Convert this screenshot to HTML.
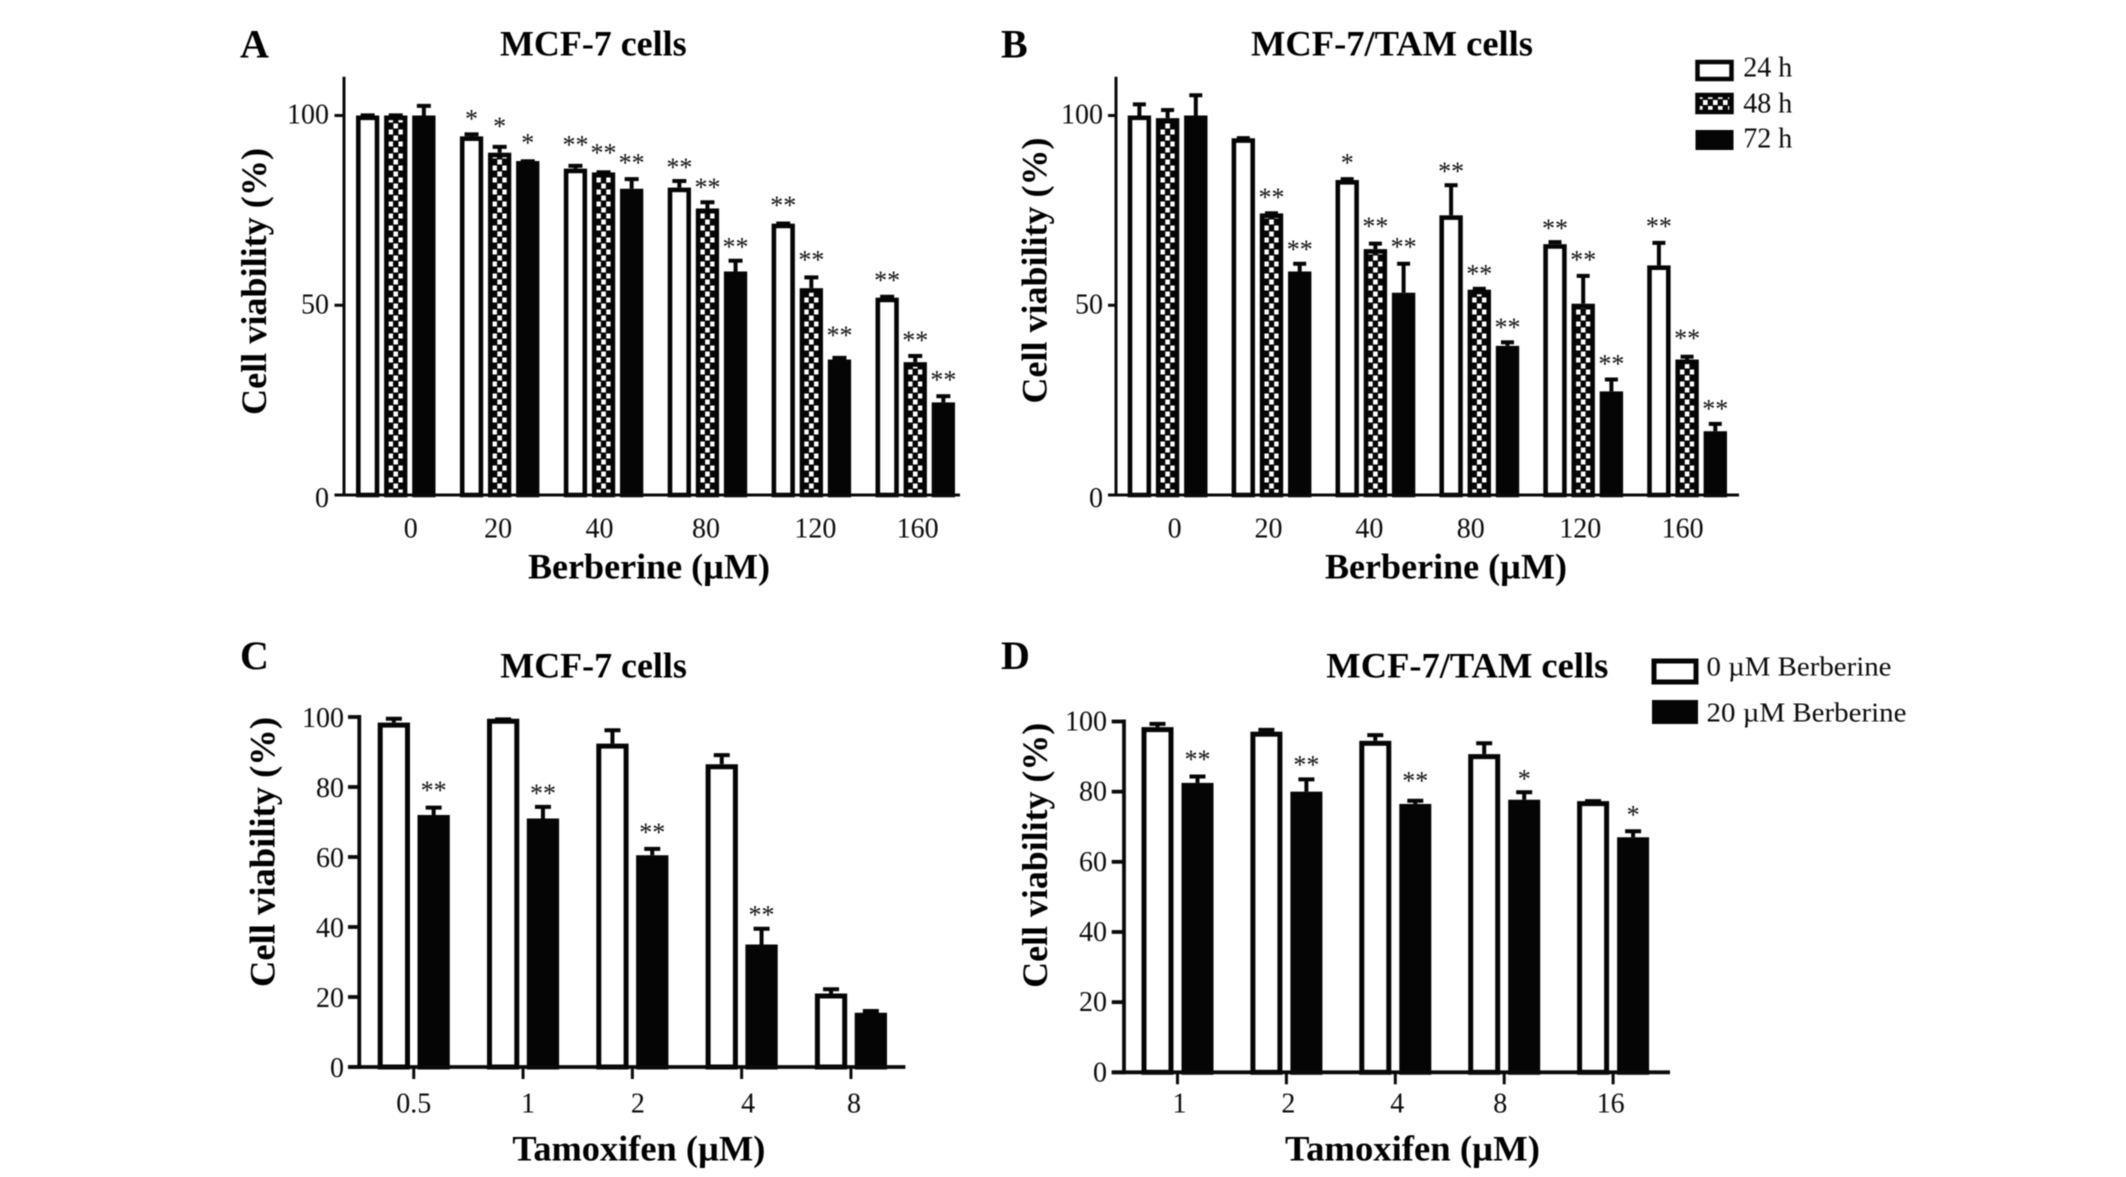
<!DOCTYPE html>
<html lang="en">
<head>
<meta charset="utf-8">
<title>Cell viability charts</title>
<style>
html,body{margin:0;padding:0;background:#fff;width:2126px;height:1177px;overflow:hidden}
svg{display:block;font-family:"Liberation Serif","DejaVu Serif",serif;filter:blur(0.55px)}
.b{font-weight:700;fill:#000}
.t{fill:#0c0c0c}
</style>
</head>
<body>
<svg id="fig" xmlns="http://www.w3.org/2000/svg" width="2126" height="1177" viewBox="0 0 2126 1177">
<defs>
<pattern id="legend-check" patternUnits="userSpaceOnUse" width="10" height="12" x="1698" y="94">
<rect width="10" height="12" fill="#050505"/>
<rect x="0" y="0" width="4.6" height="5" fill="#fff"/>
<rect x="5" y="6" width="4.6" height="5" fill="#fff"/>
</pattern>
</defs>
<rect width="2126" height="1177" fill="#fff"/>

<text class="b" x="240" y="57.5" font-size="40">A</text>
<text class="b" x="1001" y="57.5" font-size="40">B</text>
<text class="b" x="240" y="669" font-size="40">C</text>
<text class="b" x="1001" y="669" font-size="40">D</text>

<text class="b" x="500" y="55.7" font-size="36" textLength="186.6" lengthAdjust="spacingAndGlyphs">MCF-7 cells</text>
<text class="b" x="1251" y="55.7" font-size="36" textLength="282" lengthAdjust="spacingAndGlyphs">MCF-7/TAM cells</text>
<text class="b" x="500.3" y="677.5" font-size="36" textLength="186.6" lengthAdjust="spacingAndGlyphs">MCF-7 cells</text>
<text class="b" x="1326.3" y="677.5" font-size="36" textLength="282" lengthAdjust="spacingAndGlyphs">MCF-7/TAM cells</text>

<text class="b" transform="translate(266 281.5) rotate(-90)" text-anchor="middle" font-size="36" textLength="267" lengthAdjust="spacingAndGlyphs">Cell viability (%)</text>
<text class="b" transform="translate(1046.3 270.5) rotate(-90)" text-anchor="middle" font-size="36" textLength="266" lengthAdjust="spacingAndGlyphs">Cell viability (%)</text>
<text class="b" transform="translate(274.7 852) rotate(-90)" text-anchor="middle" font-size="36" textLength="270" lengthAdjust="spacingAndGlyphs">Cell viability (%)</text>
<text class="b" transform="translate(1047 855.3) rotate(-90)" text-anchor="middle" font-size="36" textLength="265" lengthAdjust="spacingAndGlyphs">Cell viability (%)</text>

<text class="b" x="528" y="578.5" font-size="36" textLength="242" lengthAdjust="spacingAndGlyphs">Berberine (µM)</text>
<text class="b" x="1325" y="578.5" font-size="36" textLength="242" lengthAdjust="spacingAndGlyphs">Berberine (µM)</text>
<text class="b" x="512.4" y="1160.5" font-size="36" textLength="253" lengthAdjust="spacingAndGlyphs">Tamoxifen (µM)</text>
<text class="b" x="1285" y="1160.5" font-size="36" textLength="255" lengthAdjust="spacingAndGlyphs">Tamoxifen (µM)</text>

<g>
<rect x="1697.5" y="62" width="34" height="17" fill="#fff" stroke="#050505" stroke-width="4.5"/>
<text class="t" x="1743.3" y="76.5" font-size="28">24 h</text>
<rect x="1697.5" y="95" width="34" height="17" fill="url(#legend-check)" stroke="#050505" stroke-width="4.5"/>
<text class="t" x="1743.3" y="112.5" font-size="28">48 h</text>
<rect x="1695.5" y="130" width="38" height="20" fill="#050505"/>
<text class="t" x="1743.3" y="147.5" font-size="28">72 h</text>
</g>
<g>
<rect x="1654" y="661" width="42" height="21" fill="#fff" stroke="#050505" stroke-width="5"/>
<text class="t" x="1706.5" y="675.5" font-size="27" textLength="185" lengthAdjust="spacingAndGlyphs">0 µM Berberine</text>
<rect x="1652" y="700" width="46" height="24" fill="#050505"/>
<text class="t" x="1706.5" y="721.5" font-size="27" textLength="200" lengthAdjust="spacingAndGlyphs">20 µM Berberine</text>
</g>
</svg>
<script>
// ---- Panel A data (MCF-7, berberine) ----
const doseCategories = ['0', '20', '40', '80', '120', '160'];
const ticksAB = [0, 50, 100];
const ticksCD = [0, 20, 40, 60, 80, 100];
const aValues24 = [100, 94.5, 86, 81, 71.5, 52];
const aValues48 = [100, 90.2, 85, 75.5, 54.5, 35];
const aValues72 = [100, 88, 80.7, 58.9, 35.7, 24.4];
const aErrors24 = [0.3, 0.8, 1, 2, 0.3, 0.5];
const aErrors48 = [0.3, 1.8, 0.3, 1.9, 3.1, 1.9];
const aErrors72 = [2.8, 0.2, 2.8, 3.1, 0.7, 1.9];
const aStars24 = ['', '*', '**', '**', '**', '**'];
const aStars48 = ['', '*', '**', '**', '**', '**'];
const aStars72 = ['', '*', '**', '**', '**', '**'];
const aStarLevel24 = [0, 100, 93.1, 87.2, 77.2, 57.4];
const aStarLevel48 = [0, 98, 91, 82, 62.8, 41.6];
const aStarLevel72 = [0, 93.7, 88.4, 66.3, 43, 31.2];

// ---- Panel B data (MCF-7/TAM, berberine) ----
const bValues24 = [100, 94, 83, 73.7, 66.1, 60.5];
const bValues48 = [99.3, 74.2, 64.8, 54.1, 50.4, 35.7];
const bValues72 = [100, 58.9, 53.3, 39.3, 27.3, 16.8];
const bErrors24 = [3.2, 0.3, 0.5, 8.2, 0.8, 6.2];
const bErrors48 = [2.4, 0.3, 1.7, 0.5, 7.6, 1];
const bErrors72 = [5.6, 2.3, 7.9, 1.2, 3.4, 2.2];
const bStars24 = ['', '', '*', '**', '**', '**'];
const bStars48 = ['', '**', '**', '**', '**', '**'];
const bStars72 = ['', '**', '**', '**', '**', '**'];
const bStarLevel24 = [0, 0, 88.4, 86.2, 71.2, 71.7];
const bStarLevel48 = [0, 79.3, 71.7, 59.2, 62.8, 42.2];
const bStarLevel72 = [0, 65.6, 66.3, 45, 35.4, 23.6];

// ---- Panel C data (MCF-7, tamoxifen) ----
const cCategories = ['0.5', '1', '2', '4', '8'];
const cValues0 = [98.4, 99.5, 92.4, 86.5, 21];
const cValues20 = [72, 71, 60.5, 35, 15.5];
const cErrors0 = [1.4, 0.1, 4.1, 2.9, 1.5];
const cErrors20 = [2.4, 3.6, 2.1, 4.8, 0.8];
const cStars0 = ['', '', '', '', ''];
const cStars20 = ['**', '**', '**', '**', ''];
const cStarLevel0 = [0, 0, 0, 0, 0];
const cStarLevel20 = [80, 79.2, 68, 44.5, 0];

// ---- Panel D data (MCF-7/TAM, tamoxifen) ----
const dCategories = ['1', '2', '4', '8', '16'];
const dValues0 = [98.4, 97.1, 94.5, 90.7, 77.3];
const dValues20 = [82.5, 80, 76.5, 77.7, 67];
const dErrors0 = [1.2, 0.8, 1.9, 3.4, 0.3];
const dErrors20 = [2.1, 3.8, 1.2, 2.4, 2];
const dStars0 = ['', '', '', '', ''];
const dStars20 = ['**', '**', '**', '*', '*'];
const dStarLevel0 = [0, 0, 0, 0, 0];
const dStarLevel20 = [90.1, 88.6, 84.1, 84.6, 74.3];

const NS = 'http://www.w3.org/2000/svg';
const fig = document.getElementById('fig');
const defs = fig.querySelector('defs');
let patternCount = 0;

function make(tag, parent, attrs) {
  const el = document.createElementNS(NS, tag);
  for (const k in attrs) el.setAttribute(k, attrs[k]);
  parent.appendChild(el);
  return el;
}

function checkerFill(x, y) {
  patternCount += 1;
  const id = 'check-' + patternCount;
  const p = make('pattern', defs, {id: id, patternUnits: 'userSpaceOnUse', width: 10, height: 12, x: x, y: y});
  make('rect', p, {width: 10, height: 12, fill: '#050505'});
  make('rect', p, {x: 0, y: 0.5, width: 4.6, height: 5, fill: '#fff'});
  make('rect', p, {x: 5, y: 6.5, width: 4.6, height: 5, fill: '#fff'});
  return 'url(#' + id + ')';
}

function drawPanel(cfg) {
  const g = make('g', fig, {});
  
  

  // axis functions
  const yScale = v => cfg.y0 - v * (cfg.y0 - cfg.y100) / 100;
  const xBar = (group, series) => cfg.firstX + group * cfg.groupPitch + series * cfg.barPitch;
  const xGroup = group => cfg.firstX + group * cfg.groupPitch + ((cfg.series.length - 1) * cfg.barPitch + cfg.barW) / 2;

  cfg.series.forEach((s, si) => {
    s.values.forEach((v, i) => {
      const x = xBar(i, si);
      const cx = x + cfg.barW / 2;
      const top = yScale(v);
      const errTop = yScale(v + s.errors[i]);

      const stem = make('line', g, {x1: cx, x2: cx, y1: top, y2: errTop + 1, stroke: '#050505', 'stroke-width': 4});
      
      

      const cap = make('line', g, {x1: cx - cfg.capW / 2, x2: cx + cfg.capW / 2, y1: errTop + 1, y2: errTop + 1, stroke: '#050505', 'stroke-width': 4});
      
      

      const sw = cfg.barStroke;
      const fill = s.kind === 'solid' ? '#050505' : s.kind === 'check' ? checkerFill(cx - 2.3, cfg.y0) : '#fff';
      const bar = make('rect', g, {x: x + sw / 2, y: top + sw / 2, width: cfg.barW - sw, height: Math.max(0, cfg.y0 - top - sw / 2), fill: fill, stroke: '#050505', 'stroke-width': sw});
      
      

      if (s.stars[i]) {
        const star = make('text', g, {x: cx, y: yScale(s.starLevel[i]) + 12, 'text-anchor': 'middle', 'font-size': 26, fill: '#111'});
        star.textContent = s.stars[i];
        
        
      }
    });
  });

  const yAxis = make('line', g, {x1: cfg.axisX, x2: cfg.axisX, y1: cfg.axisTop, y2: cfg.y0 + cfg.axisW / 2, stroke: '#0a0a0a', 'stroke-width': cfg.axisW});
  
  

  const xAxis = make('line', g, {x1: cfg.axisX - cfg.yTickLen, x2: cfg.axisEnd, y1: cfg.y0, y2: cfg.y0, stroke: '#0a0a0a', 'stroke-width': cfg.axisW});
  
  

  cfg.yTicks.forEach(t => {
    const y = yScale(t);
    const tick = make('line', g, {x1: cfg.axisX - cfg.yTickLen, x2: cfg.axisX, y1: y, y2: y, stroke: '#0a0a0a', 'stroke-width': cfg.axisW});
    
    
    const label = make('text', g, {x: cfg.yLabelX, y: y + cfg.yLabelDy + (t === 0 ? cfg.zeroDy : 0), 'text-anchor': 'end', 'font-size': 28, fill: '#0c0c0c'});
    label.textContent = String(t);
    
    
  });

  cfg.categories.forEach((c, i) => {
    const x = xGroup(i);
    if (cfg.xTickLen) {
      const tick = make('line', g, {x1: x, x2: x, y1: cfg.y0, y2: cfg.y0 + cfg.xTickLen, stroke: '#0a0a0a', 'stroke-width': 3});
      
      
    }
    const label = make('text', g, {x: x + cfg.labelNudge[i], y: cfg.xLabelY, 'text-anchor': 'middle', 'font-size': 28, fill: '#0c0c0c'});
    label.textContent = c;
    
    
  });
}

drawPanel({
  categories: doseCategories, yTicks: ticksAB,
  series: [
    {kind: 'open', values: aValues24, errors: aErrors24, stars: aStars24, starLevel: aStarLevel24},
    {kind: 'check', values: aValues48, errors: aErrors48, stars: aStars48, starLevel: aStarLevel48},
    {kind: 'solid', values: aValues72, errors: aErrors72, stars: aStars72, starLevel: aStarLevel72}
  ],
  y0: 495, y100: 115.5, firstX: 356, groupPitch: 103.9, barPitch: 28.1, barW: 23.3, barStroke: 4.6, capW: 14,
  axisX: 344, axisTop: 76.7, axisEnd: 960, axisW: 3, yTickLen: 9.5, xTickLen: 0,
  yLabelX: 329, yLabelDy: 8, zeroDy: 4, xLabelY: 537.3, labelNudge: [15, -1.5, -4, -1.5, 4, 2.4]
});
drawPanel({
  categories: doseCategories, yTicks: ticksAB,
  series: [
    {kind: 'open', values: bValues24, errors: bErrors24, stars: bStars24, starLevel: bStarLevel24},
    {kind: 'check', values: bValues48, errors: bErrors48, stars: bStars48, starLevel: bStarLevel48},
    {kind: 'solid', values: bValues72, errors: bErrors72, stars: bStars72, starLevel: bStarLevel72}
  ],
  y0: 495, y100: 115.5, firstX: 1127.7, groupPitch: 103.9, barPitch: 28.2, barW: 23.4, barStroke: 4.6, capW: 13,
  axisX: 1116, axisTop: 76.7, axisEnd: 1739, axisW: 3, yTickLen: 8, xTickLen: 0,
  yLabelX: 1103, yLabelDy: 8, zeroDy: 4, xLabelY: 537.3, labelNudge: [7, -3, -6, -8.5, -3, -4.5]
});
drawPanel({
  categories: cCategories, yTicks: ticksCD,
  series: [
    {kind: 'open', values: cValues0, errors: cErrors0, stars: cStars0, starLevel: cStarLevel0},
    {kind: 'solid', values: cValues20, errors: cErrors20, stars: cStars20, starLevel: cStarLevel20}
  ],
  y0: 1067, y100: 717, firstX: 377.7, groupPitch: 109.3, barPitch: 39.8, barW: 32.3, barStroke: 5, capW: 16,
  axisX: 359.3, axisTop: 715, axisEnd: 905.4, axisW: 3.8, yTickLen: 11.3, xTickLen: 12,
  yLabelX: 344, yLabelDy: 10, zeroDy: 0, xLabelY: 1112.3, labelNudge: [0, 5, 5.5, 6.5, 3]
});
drawPanel({
  categories: dCategories, yTicks: ticksCD,
  series: [
    {kind: 'open', values: dValues0, errors: dErrors0, stars: dStars0, starLevel: dStarLevel0},
    {kind: 'solid', values: dValues20, errors: dErrors20, stars: dStars20, starLevel: dStarLevel20}
  ],
  y0: 1072.3, y100: 721.5, firstX: 1141.5, groupPitch: 108.9, barPitch: 40, barW: 32, barStroke: 5, capW: 16,
  axisX: 1124, axisTop: 719.5, axisEnd: 1670, axisW: 3.8, yTickLen: 12.3, xTickLen: 12,
  yLabelX: 1107, yLabelDy: 9, zeroDy: 0, xLabelY: 1112.3, labelNudge: [2, 2, 2, -4, -2.5]
});
</script>
</body>
</html>
